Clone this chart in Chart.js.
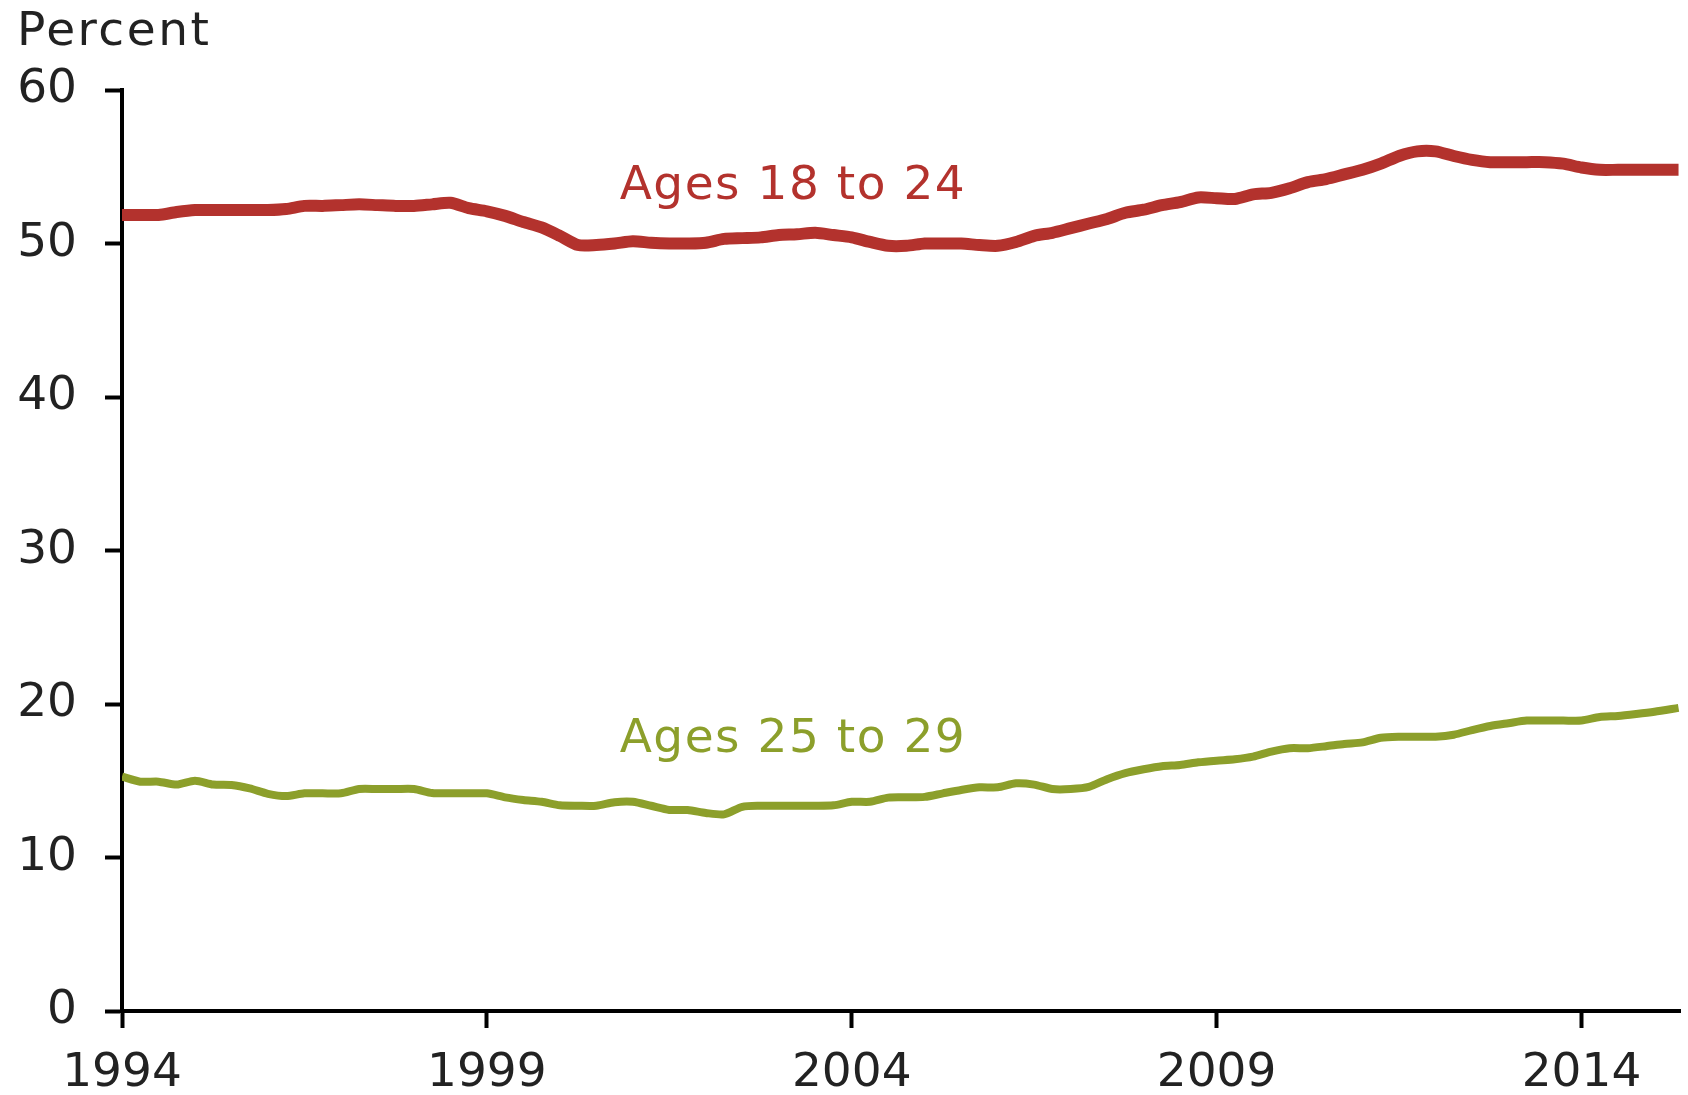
<!DOCTYPE html>
<html>
<head>
<meta charset="utf-8">
<script src="https://cdn.jsdelivr.net/npm/chart.js@4/dist/chart.umd.min.js"></script>
<style>
  html, body { margin: 0; padding: 0; background: #fff; }
  #wrap { width: 1688px; height: 1095px; }
</style>
</head>
<body>
<div id="wrap"><canvas id="chart" width="1688" height="1095"></canvas></div>
<script>
/* Quarterly points (decimal years) */
const QUARTERS = [
  1994.0, 1994.25, 1994.5, 1994.75, 1995.0, 1995.25, 1995.5, 1995.75,
  1996.0, 1996.25, 1996.5, 1996.75, 1997.0, 1997.25, 1997.5, 1997.75,
  1998.0, 1998.25, 1998.5, 1998.75, 1999.0, 1999.25, 1999.5, 1999.75,
  2000.0, 2000.25, 2000.5, 2000.75, 2001.0, 2001.25, 2001.5, 2001.75,
  2002.0, 2002.25, 2002.5, 2002.75, 2003.0, 2003.25, 2003.5, 2003.75,
  2004.0, 2004.25, 2004.5, 2004.75, 2005.0, 2005.25, 2005.5, 2005.75,
  2006.0, 2006.25, 2006.5, 2006.75, 2007.0, 2007.25, 2007.5, 2007.75,
  2008.0, 2008.25, 2008.5, 2008.75, 2009.0, 2009.25, 2009.5, 2009.75,
  2010.0, 2010.25, 2010.5, 2010.75, 2011.0, 2011.25, 2011.5, 2011.75,
  2012.0, 2012.25, 2012.5, 2012.75, 2013.0, 2013.25, 2013.5, 2013.75,
  2014.0, 2014.25, 2014.5, 2014.75, 2015.0, 2015.33
];

const AGES_18_24 = [
  51.86, 51.86, 51.86, 52.05, 52.18, 52.18, 52.18, 52.18,
  52.18, 52.25, 52.45, 52.45, 52.5, 52.55, 52.5, 52.45,
  52.45, 52.55, 52.65, 52.3, 52.1, 51.8, 51.4, 51.05,
  50.5, 49.9, 49.9, 50.0, 50.15, 50.05, 50.0, 50.0,
  50.05, 50.3, 50.35, 50.4, 50.55, 50.6, 50.7, 50.55,
  50.4, 50.1, 49.85, 49.85, 50.0, 50.0, 50.0, 49.9,
  49.85, 50.1, 50.5, 50.7, 51.0, 51.3, 51.6, 52.0,
  52.2, 52.5, 52.7, 53.0, 52.95, 52.9, 53.2, 53.3,
  53.6, 54.0, 54.2, 54.5, 54.8, 55.2, 55.7, 56.0,
  56.0, 55.7, 55.45, 55.3, 55.3, 55.3, 55.3, 55.2,
  54.95, 54.8, 54.8, 54.8, 54.8, 54.8
];

const AGES_25_29 = [
  15.27, 14.94, 14.94, 14.75, 15.0, 14.75, 14.72, 14.5,
  14.15, 14.0, 14.18, 14.18, 14.18, 14.46, 14.46, 14.46,
  14.46, 14.2, 14.18, 14.18, 14.18, 13.92, 13.75, 13.63,
  13.4, 13.37, 13.37, 13.6, 13.63, 13.37, 13.1, 13.09,
  12.9, 12.81, 13.3, 13.37, 13.37, 13.37, 13.37, 13.4,
  13.63, 13.63, 13.9, 13.92, 13.95, 14.18, 14.4, 14.57,
  14.57, 14.83, 14.75, 14.46, 14.46, 14.6, 15.1, 15.5,
  15.75, 15.95, 16.03, 16.2, 16.31, 16.4, 16.57, 16.9,
  17.12, 17.12, 17.25, 17.4, 17.5, 17.8, 17.87, 17.87,
  17.87, 18.0, 18.3, 18.57, 18.75, 18.92, 18.92, 18.92,
  18.92, 19.15, 19.22, 19.35, 19.5, 19.75
];

const X_TICKS = [1994, 1999, 2004, 2009, 2014];
const SERIES_NAMES = ["Ages 18 to 24", "Ages 25 to 29"];

(function () {
  const RED = "#b3322d";
  const GREEN = "#8c9f2b";
  const FONT = "DejaVu Sans, Verdana, sans-serif";

  // series labels sit in data space, left end at about 2000.8
  const seriesLabels = {
    id: "seriesLabels",
    afterDatasetsDraw(chart) {
      const { ctx, scales } = chart;
      const spots = [
        { text: SERIES_NAMES[0], x: 2000.82, y: 52.88, color: RED },
        { text: SERIES_NAMES[1], x: 2000.82, y: 16.9, color: GREEN },
      ];
      ctx.save();
      ctx.font = "47px " + FONT;
      ctx.textAlign = "left";
      ctx.textBaseline = "alphabetic";
      ctx.letterSpacing = "1.5px";
      spots.forEach(function (s) {
        ctx.fillStyle = s.color;
        ctx.fillText(s.text, scales.x.getPixelForValue(s.x), scales.y.getPixelForValue(s.y));
      });
      // unit caption above the y axis
      ctx.letterSpacing = "2.5px";
      ctx.fillStyle = "#222";
      ctx.fillText("Percent", 17, 45);
      ctx.restore();
    },
  };

  function pairs(values) {
    return values.map(function (v, i) { return { x: QUARTERS[i], y: v }; });
  }

  new Chart(document.getElementById("chart"), {
    type: "line",
    data: {
      datasets: [
        {
          label: SERIES_NAMES[0],
          data: pairs(AGES_18_24),
          borderColor: RED,
          borderWidth: 12,
          pointRadius: 0,
          tension: 0.25,
        },
        {
          label: SERIES_NAMES[1],
          data: pairs(AGES_25_29),
          borderColor: GREEN,
          borderWidth: 8,
          pointRadius: 0,
          tension: 0.25,
        },
      ],
    },
    options: {
      responsive: false,
      animation: false,
      layout: { padding: { top: 90, right: 8, left: 0, bottom: 0 } },
      plugins: {
        legend: { display: false },
        tooltip: { enabled: false },
      },
      scales: {
        x: {
          type: "linear",
          min: 1994,
          max: 2015.35,
          afterBuildTicks: function (axis) {
            axis.ticks = X_TICKS.map(function (v) { return { value: v }; });
          },
          afterFit: function (axis) { axis.height = 84; },
          border: { display: true, color: "#000", width: 4 },
          grid: {
            drawOnChartArea: false,
            drawTicks: true,
            tickLength: 17,
            tickWidth: 4,
            tickColor: "#000",
          },
          ticks: {
            autoSkip: false,
            maxRotation: 0,
            padding: 18,
            color: "#222",
            font: { family: FONT, size: 47 },
            callback: function (v) { return String(v); },
          },
        },
        y: {
          min: 0,
          max: 60,
          afterFit: function (axis) { axis.width = 122; },
          border: { display: true, color: "#000", width: 4 },
          grid: {
            drawOnChartArea: false,
            drawTicks: true,
            tickLength: 17,
            tickWidth: 4,
            tickColor: "#000",
          },
          ticks: {
            stepSize: 10,
            padding: 28,
            color: "#222",
            font: { family: FONT, size: 47 },
          },
        },
      },
    },
    plugins: [seriesLabels],
  });
})();
</script>
</body>
</html>
